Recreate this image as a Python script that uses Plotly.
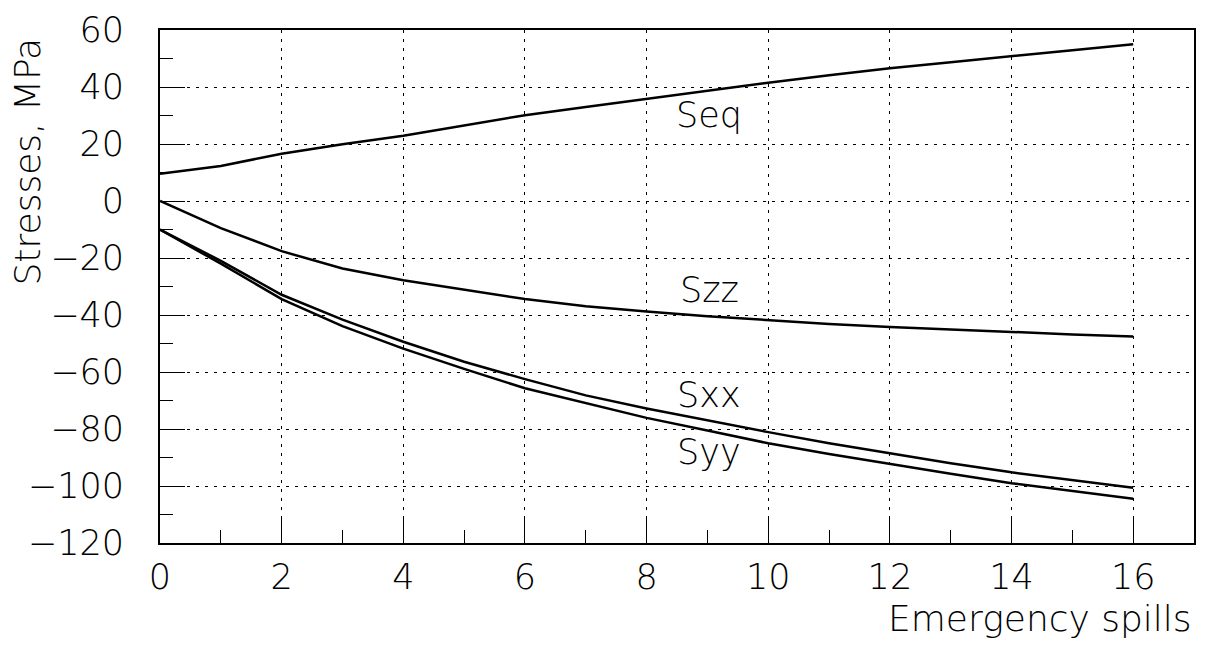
import plotly.graph_objects as go

spills = list(range(0, 17))
seq = [9.6, 12.3, 16.6, 19.9, 22.9, 26.6, 30.1, 33.0, 35.9, 38.8, 41.5, 44.1, 46.6, 48.7, 50.7, 52.9, 55.0]
szz = [0.0, -9.5, -17.6, -23.7, -27.8, -31.1, -34.4, -36.9, -38.8, -40.4, -41.9, -43.2, -44.2, -45.1, -46.0, -46.8, -47.5]
sxx = [-10.0, -21.0, -32.9, -41.6, -49.4, -56.4, -62.5, -68.2, -72.8, -77.0, -81.1, -85.0, -88.6, -92.0, -95.2, -98.0, -100.6]
syy = [-10.0, -22.0, -34.4, -43.9, -51.8, -58.9, -65.7, -70.9, -76.1, -80.5, -85.0, -88.8, -92.3, -95.7, -99.0, -101.8, -104.5]

series = [("Seq", seq), ("Szz", szz), ("Sxx", sxx), ("Syy", syy)]
label_x = [9.03, 9.03, 9.03, 9.03]
label_y = [30.3, -31.3, -68.0, -87.9]

x_ticks = list(range(0, 17, 2))
y_ticks = list(range(-120, 61, 20))

FONT = "DejaVu Sans"

fig = go.Figure()
for name, vals in series:
    fig.add_trace(go.Scatter(x=spills, y=vals, mode="lines", name=name,
                             line=dict(color="black", width=2.5), showlegend=False))

for (name, _), lx, ly in zip(series, label_x, label_y):
    fig.add_annotation(x=lx, y=ly, text=name, showarrow=False, xanchor="center", yanchor="middle",
                       font=dict(family=FONT, size=35, color="black", weight=200))

fig.add_annotation(xref="paper", yref="paper", x=1.0, y=-0.147, text="Emergency spills",
                   showarrow=False, xanchor="right", yanchor="middle",
                   font=dict(family=FONT, size=36, color="black", weight=200))
fig.add_annotation(xref="paper", yref="paper", x=-0.128, y=0.743, text="Stresses, MPa",
                   showarrow=False, textangle=-90, xanchor="center", yanchor="middle",
                   font=dict(family=FONT, size=36, color="black", weight=200))

axis_common = dict(showline=True, linecolor="black", linewidth=2, mirror=True,
                   ticks="inside", ticklen=25, tickwidth=1, tickcolor="black",
                   showgrid=True, gridcolor="black", gridwidth=1, griddash="3px,6px",
                   zeroline=False,
                   tickfont=dict(family=FONT, size=35, color="black", weight=200))

fig.update_xaxes(range=[0, 17], tickvals=x_ticks, ticktext=[str(v) for v in x_ticks],
                 minor=dict(ticks="inside", ticklen=13, tickwidth=1, tickcolor="black", dtick=1, tick0=0, showgrid=False),
                 ticklabelstandoff=2, **axis_common)
fig.update_yaxes(range=[-120, 60], tickvals=y_ticks, ticktext=[str(v).replace("-", "\u2212") for v in y_ticks],
                 minor=dict(ticks="inside", ticklen=13, tickwidth=1, tickcolor="black", dtick=10, tick0=0, showgrid=False),
                 ticklabelstandoff=27, **axis_common)

fig.update_layout(width=1206, height=648, margin=dict(l=160, r=10, t=25, b=105),
                  paper_bgcolor="white", plot_bgcolor="white",
                  font=dict(family=FONT, color="black", weight=200))

fig.write_html("out.html")
